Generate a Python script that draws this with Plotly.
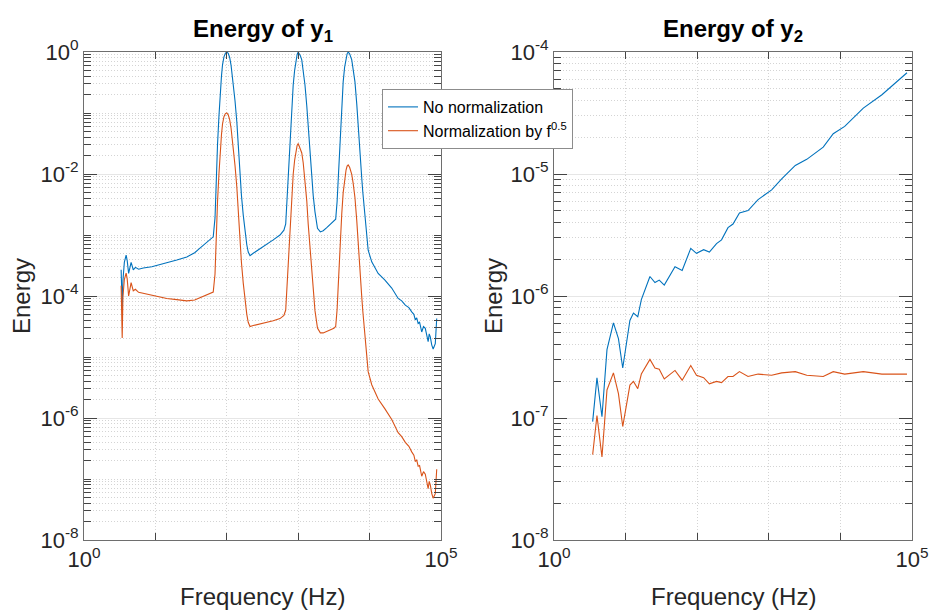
import numpy as np
import plotly.graph_objects as go

# log10 of frequency (Hz) and energy
left_logf = [0.52, 0.535, 0.545, 0.565, 0.59, 0.605, 0.625, 0.645, 0.66, 0.69, 0.72, 0.765, 0.83, 0.95,
             1.16, 1.30, 1.44, 1.55, 1.62, 1.70, 1.76, 1.81, 1.835, 1.85, 1.87, 1.89, 1.905, 1.925, 1.94,
             1.96, 1.98, 2.0, 2.02, 2.04, 2.06, 2.09, 2.115, 2.14, 2.16, 2.18, 2.205, 2.23, 2.255, 2.28,
             2.30, 2.325, 2.37, 2.45, 2.56, 2.65, 2.745, 2.80, 2.825, 2.835, 2.86, 2.89, 2.91, 2.93, 2.95,
             2.97, 2.985, 3.0, 3.015, 3.03, 3.05, 3.07, 3.095, 3.12, 3.14, 3.165, 3.19, 3.21, 3.235, 3.27,
             3.31, 3.35, 3.40, 3.45, 3.50, 3.525, 3.545, 3.56, 3.59, 3.61, 3.63, 3.65, 3.67, 3.685, 3.70,
             3.72, 3.75, 3.77, 3.795, 3.82, 3.84, 3.865, 3.89, 3.905, 3.935, 3.95, 3.98, 4.03, 4.12, 4.215,
             4.31, 4.40, 4.45, 4.50, 4.55, 4.59, 4.62, 4.64, 4.66, 4.68, 4.70, 4.73, 4.755, 4.78, 4.80,
             4.82, 4.835, 4.85, 4.87, 4.89, 4.92, 4.935, 4.94]
left_no_norm = [-3.57, -4.2, -3.75, -3.45, -3.33, -3.42, -3.63, -3.50, -3.45, -3.57, -3.53, -3.56, -3.54, -3.52,
                -3.46, -3.41, -3.36, -3.29, -3.22, -3.14, -3.08, -3.03, -2.72, -2.10, -1.52, -1.05, -0.70, -0.40, -0.21,
                -0.08, -0.02, 0.0, -0.02, -0.09, -0.22, -0.49, -0.80, -1.14, -1.52, -1.96, -2.35, -2.67, -2.95, -3.16,
                -3.28, -3.34, -3.30, -3.24, -3.16, -3.08, -3.0, -2.92, -2.82, -2.6, -2.07, -1.25, -0.85, -0.54, -0.30,
                -0.13, -0.04, 0.0, -0.03, -0.06, -0.13, -0.28, -0.54, -0.88, -1.25, -1.62, -2.02, -2.35, -2.62, -2.89,
                -2.95, -2.93, -2.88, -2.83, -2.78, -2.74, -2.45, -2.07, -1.25, -0.85, -0.49, -0.25, -0.10, -0.03, 0.0,
                -0.03, -0.13, -0.27, -0.49, -0.85, -1.25, -1.65, -2.07, -2.3, -2.67, -2.92, -3.25, -3.44, -3.63, -3.74,
                -3.87, -4.04, -4.08, -4.15, -4.19, -4.26, -4.30, -4.39, -4.36, -4.45, -4.43, -4.59, -4.50, -4.53, -4.66,
                -4.75, -4.62, -4.67, -4.80, -4.87, -4.78, -4.55, -4.37]
left_norm = [-3.83, -4.69, -4.02, -3.73, -3.625, -3.72, -4.0, -3.82, -3.78, -3.915, -3.89, -3.94, -3.955, -3.995,
             -4.04, -4.06, -4.08, -4.065, -4.03, -3.99, -3.96, -3.935, -3.64, -3.03, -2.455, -1.995, -1.65, -1.36, -1.18,
             -1.06, -1.01, -1.0, -1.03, -1.11, -1.25, -1.535, -1.86, -2.21, -2.60, -3.05, -3.45, -3.785, -4.08, -4.30,
             -4.43, -4.50, -4.485, -4.465, -4.44, -4.405, -4.37, -4.32, -4.23, -4.02, -3.50, -2.695, -2.305, -2.005, -1.775,
             -1.615, -1.53, -1.5, -1.54, -1.575, -1.655, -1.815, -2.09, -2.44, -2.82, -3.20, -3.615, -3.955, -4.24, -4.525,
             -4.605, -4.605, -4.58, -4.555, -4.53, -4.50, -4.22, -3.85, -3.045, -2.655, -2.305, -2.075, -1.935, -1.87, -1.85,
             -1.89, -2.005, -2.155, -2.39, -2.76, -3.17, -3.58, -4.015, -4.25, -4.64, -4.895, -5.24, -5.455, -5.69, -5.85,
             -6.025, -6.24, -6.305, -6.40, -6.465, -6.555, -6.61, -6.71, -6.69, -6.79, -6.78, -6.955, -6.88, -6.92, -7.06,
             -7.16, -7.04, -7.095, -7.235, -7.315, -7.24, -7.02, -6.84]

right_logf = [0.54, 0.60, 0.67, 0.74, 0.83, 0.90, 0.96, 1.06, 1.11, 1.17, 1.22, 1.34, 1.41, 1.47, 1.54, 1.69,
              1.79, 1.91, 1.99, 2.09, 2.17, 2.27, 2.34, 2.43, 2.50, 2.59, 2.71, 2.85, 3.04, 3.18, 3.37, 3.53,
              3.76, 3.90, 4.06, 4.32, 4.58, 4.93]
right_no_norm = [-7.03, -6.67, -6.99, -6.44, -6.22, -6.35, -6.59, -6.20, -6.14, -6.17, -6.03, -5.84, -5.89, -5.87,
                 -5.91, -5.76, -5.79, -5.61, -5.65, -5.62, -5.64, -5.57, -5.54, -5.44, -5.41, -5.32, -5.30, -5.21,
                 -5.13, -5.04, -4.93, -4.88, -4.78, -4.67, -4.61, -4.46, -4.35, -4.17]
right_norm = [-7.30, -6.98, -7.32, -6.77, -6.63, -6.80, -7.07, -6.73, -6.70, -6.76, -6.64, -6.52, -6.59, -6.60,
              -6.68, -6.61, -6.69, -6.57, -6.65, -6.67, -6.72, -6.70, -6.71, -6.66, -6.66, -6.62, -6.66, -6.64,
              -6.65, -6.63, -6.62, -6.65, -6.66, -6.62, -6.64, -6.62, -6.64, -6.64]

names = ['No normalization', 'Normalization by f<sup>0.5</sup>']
colors = ['#0072BD', '#D95319']

W, H = 929, 612
FONT = 'Liberation Sans, Arial, sans-serif'
TXT = '#262626'


def px_x(p):
    return p / W


def px_y(p):
    return 1 - p / H


def sup(e):
    return f'10<sup>{e}</sup>'


def minor_vals(lo, hi, majors):
    vals = []
    for d in range(lo, hi):
        for k in range(1, 10):
            v = k * 10.0 ** d
            if not any(abs(v - m) / m < 1e-9 for m in majors):
                vals.append(v)
    return vals


fig = go.Figure()
for logf, series, axis, legend in [
        (left_logf, [left_no_norm, left_norm], ('x', 'y'), True),
        (right_logf, [right_no_norm, right_norm], ('x2', 'y2'), False)]:
    f = 10 ** np.array(logf)
    for i, s in enumerate(series):
        fig.add_trace(go.Scatter(x=f, y=10 ** np.array(s), mode='lines', name=names[i],
                                 line=dict(color=colors[i], width=1.1),
                                 xaxis=axis[0], yaxis=axis[1], showlegend=legend))

minor_style = dict(tickmode='array', ticks='inside', ticklen=7, tickcolor='#444444', tickwidth=1,
                   showgrid=True, gridcolor='#d4d4d4', griddash='1px,2px', gridwidth=1)

common = dict(type='log', automargin=False, showline=True, linecolor='#6e6e6e', linewidth=1,
              mirror='ticks', ticks='inside', ticklen=13, tickcolor='#444444', tickwidth=1,
              tickfont=dict(family=FONT, size=22, color=TXT), ticklabeloverflow='allow',
              showgrid=True, gridcolor='#e6e6e6', gridwidth=1, zeroline=False)

x_common = dict(common, range=[0, 5], tickmode='array', tickvals=[1, 1e5],
                ticktext=[sup(0), sup(5)], showgrid=False,
                minor=dict(minor_style, tickvals=[10, 100, 1000, 10000]))

yl_major = [1e-8, 1e-6, 1e-4, 1e-2, 1]
yr_major = [1e-8, 1e-7, 1e-6, 1e-5, 1e-4]


def y_axis(lo, hi, majors):
    return dict(common, range=[lo, hi], tickmode='array', tickvals=majors,
                ticktext=[sup(int(round(np.log10(m)))) for m in majors],
                minor=dict(minor_style, tickvals=minor_vals(lo, hi, majors)))


fig.update_layout(
    template='none',
    width=W, height=H,
    margin=dict(l=0, r=0, t=0, b=0, autoexpand=False),
    paper_bgcolor='white', plot_bgcolor='white',
    font=dict(family=FONT, color=TXT),
    xaxis=dict(x_common, domain=[px_x(84), px_x(441)], anchor='y'),
    yaxis=dict(y_axis(-8, 0, yl_major), domain=[px_y(540), px_y(52)], anchor='x'),
    xaxis2=dict(x_common, domain=[px_x(554), px_x(912)], anchor='y2'),
    yaxis2=dict(y_axis(-8, -4, yr_major), domain=[px_y(540), px_y(52)], anchor='x2'),
    legend=dict(x=px_x(382), y=px_y(89), xanchor='left', yanchor='top',
                bgcolor='white', bordercolor='#8c8c8c', borderwidth=1,
                font=dict(family=FONT, size=16, color='#000000'),
                itemwidth=30, tracegroupgap=0),
)

annots = [
    (262.5, 30, '<b>Energy of y<sub>1</sub></b>', 0, 24, '#000000'),
    (733, 30, '<b>Energy of y<sub>2</sub></b>', 0, 24, '#000000'),
    (262.5, 596, 'Frequency (Hz)', 0, 24, TXT),
    (733, 596, 'Frequency (Hz)', 0, 24, TXT),
    (21, 296, 'Energy', -90, 24, TXT),
    (493, 296, 'Energy', -90, 24, TXT),
]
for x, y, text, ang, size, col in annots:
    fig.add_annotation(x=px_x(x), y=px_y(y), xref='paper', yref='paper', text=text,
                       showarrow=False, textangle=ang, xanchor='center', yanchor='middle',
                       font=dict(family=FONT, size=size, color=col))

# drop the browser's default 8px body margin so the figure fills the window
fig.write_html("out.html", config={'displayModeBar': False},
               post_script="document.body.style.margin='0';document.body.style.overflow='hidden';")
